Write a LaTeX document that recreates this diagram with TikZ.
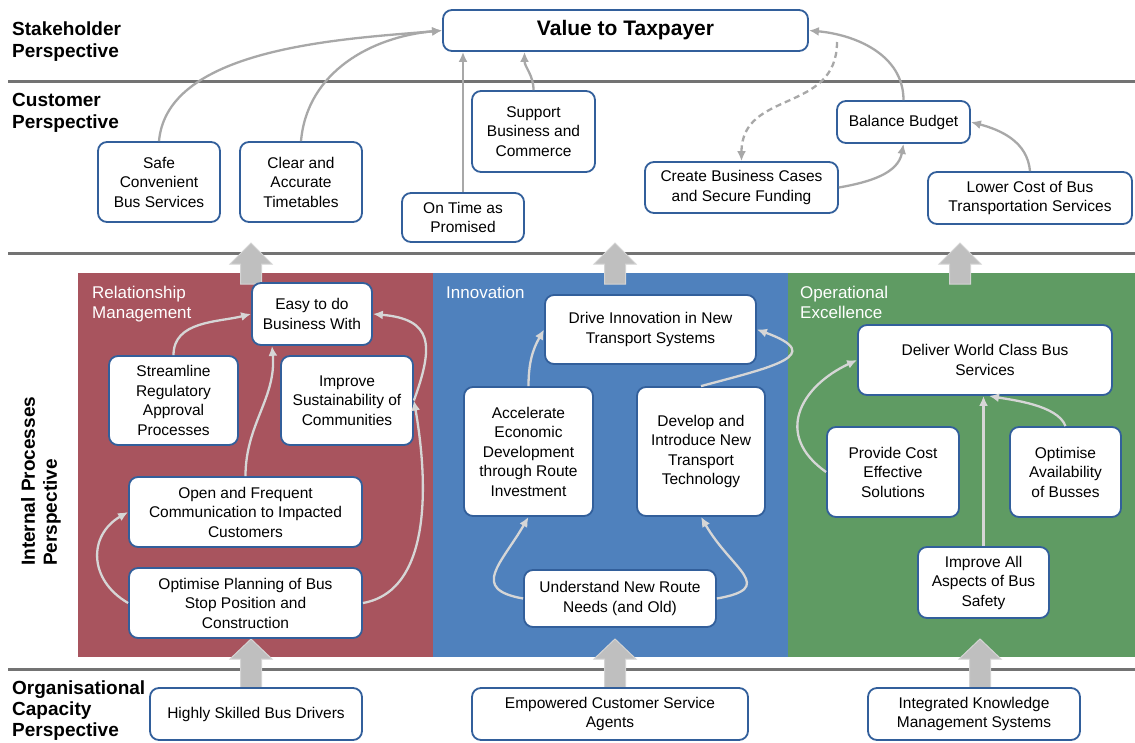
\documentclass[tikz,border=0pt]{standalone}
\usepackage{fontspec}
\setmainfont{Liberation Sans}
\usepackage{tikz}
\usetikzlibrary{arrows.meta}
\usetikzlibrary{positioning,calc}
\definecolor{boxblue}{RGB}{50,95,155}
\definecolor{relred}{RGB}{168,84,94}
\definecolor{innoblue}{RGB}{79,129,189}
\definecolor{opgreen}{RGB}{95,155,99}
\definecolor{sepgray}{RGB}{115,115,115}
\definecolor{linkgray}{RGB}{168,168,168}
\definecolor{paleline}{RGB}{214,214,214}
\tikzset{
	goalnode/.style={rectangle, rounded corners=9pt, draw=boxblue, fill=white, line width=1.8pt, align=center, inner sep=0pt, font=\fontsize{15.5}{19.5}\selectfont},
	topnode/.style={goalnode, font=\fontsize{21}{24}\selectfont\bfseries},
	sidelabel/.style={anchor=north west, align=left, inner sep=0pt, font=\fontsize{19}{22}\selectfont\bfseries},
	panellabel/.style={anchor=north west, align=left, inner sep=0pt, text=white, font=\fontsize{17}{20}\selectfont},
	darklink/.style={->, draw=linkgray, line width=2.3pt},
	palelink/.style={->, draw=paleline, line width=2.3pt},
	mydashed/.style={dash pattern=on 6pt off 4pt},
	sepline/.style={draw=sepgray, line width=3pt},
	bigarrow/.style={fill=black!25, draw=black!17, line width=1pt}
}

\begin{document}
\begin{tikzpicture}[x=1pt, y=1pt, >={Latex[length=10pt,width=9pt]}]
		\useasboundingbox (0,0) rectangle (1135,-742);
		\fill[white] (0,0) rectangle (1135,-742);
		
		% perspective rows
		\draw[sepline] (8,-81) -- (1135,-81);
		\draw[sepline] (8,-253) -- (1135,-253);
		\draw[sepline] (8,-669) -- (1135,-669);
		
		% panels
		\fill[relred] (78,-273) rectangle (433,-657);
		\fill[innoblue] (433,-273) rectangle (788,-657);
		\fill[opgreen] (788,-273) rectangle (1135,-657);
		
		% fat arrows between rows
		\foreach \x in {251,615,960}
			\filldraw[bigarrow] (\x-10.5,-284) -- (\x-10.5,-264) -- (\x-21,-264) -- (\x,-243) -- (\x+21,-264) -- (\x+10.5,-264) -- (\x+10.5,-284) -- cycle;
		\foreach \x in {251,615,980}
			\filldraw[bigarrow] (\x-10.5,-690) -- (\x-10.5,-659) -- (\x-21,-659) -- (\x,-639) -- (\x+21,-659) -- (\x+10.5,-659) -- (\x+10.5,-690) -- cycle;
		
		%text
		\node[sidelabel] at (12,-22) (stakeholder) {Stakeholder\\Perspective};
		\node[sidelabel] at (12,-93) (customer) {Customer\\Perspective};
		\node[sidelabel, rotate=90] at (21,-566) (internal) {Internal Processes\\Perspective};
		\node[sidelabel, font=\fontsize{19}{21}\selectfont\bfseries] at (12,-681) (organisational) {Organisational\\Capacity\\Perspective};
		\node[panellabel] at (92,-286) (relmgmt) {Relationship\\Management};
		\node[panellabel] at (446,-286) (innov) {Innovation};
		\node[panellabel] at (800,-286) (opex) {Operational\\Excellence};
		
		% stakeholder and customer
		\node[topnode, minimum width=365pt, minimum height=41pt] at (625.5,-30.5) (value) {Value to Taxpayer};
		\node[goalnode, minimum width=122pt, minimum height=80pt] at (159,-182) (safe) {Safe\\Convenient\\Bus Services};
		\node[goalnode, minimum width=122pt, minimum height=80pt] at (301,-182) (clear) {Clear and\\Accurate\\Timetables};
		\node[goalnode, minimum width=122pt, minimum height=49pt] at (463,-217.5) (ontime) {On Time as\\Promised};
		\node[goalnode, minimum width=123pt, minimum height=81pt] at (533.5,-131.5) (support) {Support\\Business and\\Commerce};
		\node[goalnode, minimum width=193pt, minimum height=51pt] at (741.5,-187.5) (cases) {Create Business Cases\\and Secure Funding};
		\node[goalnode, minimum width=133pt, minimum height=42pt] at (903.5,-122) (budget) {Balance Budget};
		\node[goalnode, minimum width=204pt, minimum height=52pt] at (1030,-198) (lowercost) {Lower Cost of Bus\\Transportation Services};
		\coordinate (dashstart) at (837,-42);
		
		% internal processes
		\node[goalnode, minimum width=120pt, minimum height=62pt] at (312,-314) (easy) {Easy to do\\Business With};
		\node[goalnode, minimum width=129pt, minimum height=89pt] at (173.5,-400.5) (streamline) {Streamline\\Regulatory\\Approval\\Processes};
		\node[goalnode, minimum width=132pt, minimum height=89pt] at (347,-400.5) (sustain) {Improve\\Sustainability of\\Communities};
		\node[goalnode, minimum width=233pt, minimum height=70pt] at (245.5,-512) (comms) {Open and Frequent\\Communication to Impacted\\Customers};
		\node[goalnode, minimum width=233pt, minimum height=70pt] at (245.5,-603) (busstop) {Optimise Planning of Bus\\Stop Position and\\Construction};
		
		\node[goalnode, minimum width=211pt, minimum height=69pt] at (650.5,-329.5) (driveinno) {Drive Innovation in New\\Transport Systems};
		\node[goalnode, minimum width=129pt, minimum height=129pt] at (528.5,-451.5) (accel) {Accelerate\\Economic\\Development\\through Route\\Investment};
		\node[goalnode, minimum width=128pt, minimum height=129pt] at (701,-451.5) (develop) {Develop and\\Introduce New\\Transport\\Technology};
		\node[goalnode, minimum width=192pt, minimum height=57pt] at (620,-598.5) (routes) {Understand New Route\\Needs (and Old)};
		
		\node[goalnode, minimum width=254pt, minimum height=70pt] at (985,-360) (worldclass) {Deliver World Class Bus\\Services};
		\node[goalnode, minimum width=132pt, minimum height=90pt] at (893,-472) (costeff) {Provide Cost\\Effective\\Solutions};
		\node[goalnode, minimum width=111pt, minimum height=90pt] at (1065.5,-472) (avail) {Optimise\\Availability\\of Busses};
		\node[goalnode, minimum width=131pt, minimum height=71pt] at (983.5,-582.5) (safety) {Improve All\\Aspects of Bus\\Safety};
		
		% organisational capacity
		\node[goalnode, minimum width=212pt, minimum height=52pt] at (256,-714) (drivers) {Highly Skilled Bus Drivers};
		\node[goalnode, minimum width=276pt, minimum height=52pt] at (610,-714) (agents) {Empowered Customer Service\\Agents};
		\node[goalnode, minimum width=212pt, minimum height=52pt] at (974,-714) (knowledge) {Integrated Knowledge\\Management Systems};
		
		%Lines
		\draw[darklink] (safe.north) to[out=85, in=185, looseness=0.8] (value.west);
		\draw[darklink] (clear.north) to[out=85, in=185] (value.west);
		\draw[darklink] (ontime.north) -- (ontime.north |- value.south);
		\draw[darklink] (support.north) to[out=90, in=-90] ([xshift=-101pt]value.south);
		\draw[darklink] (budget.north) to[out=90, in=-5] (value.east);
		\draw[darklink, mydashed] (dashstart) to[out=-90, in=90, looseness=1.2] (cases.north);
		\draw[darklink] (cases.east) to[out=10, in=-100] (budget.south);
		\draw[darklink] (lowercost.north) to[out=95, in=-15] (budget.east);
		
		\draw[palelink] (streamline.north) to[out=90, in=194] (easy.west);
		\draw[palelink] (comms.north) to[out=90, in=-85] ([xshift=-40pt]easy.south);
		\draw[palelink] (busstop.west) to[out=150, in=210, looseness=1.3] (comms.west);
		\draw[palelink] (busstop.east) to[out=10, in=-80, looseness=0.9] (sustain.east);
		\draw[palelink] (sustain.east) to[out=70, in=-5, looseness=1.6] (easy.east);
		
		\draw[palelink] (accel.north) to[out=90, in=240] (driveinno.west);
		\draw[palelink] (develop.north) to[out=15, in=-20, looseness=2.4] (driveinno.east);
		\draw[palelink] (routes.west) to[out=170, in=240, looseness=1.7] (accel.south);
		\draw[palelink] (routes.east) to[out=10, in=-60, looseness=1.9] (develop.south);
		
		\draw[palelink] (costeff.west) to[out=145, in=205, looseness=1.4] (worldclass.west);
		\draw[palelink] (safety.north) -- (safety.north |- worldclass.south);
		\draw[palelink] (avail.north) to[out=110, in=-10, looseness=0.7] ([xshift=4pt]worldclass.south);
		
	\end{tikzpicture}
\end{document}
